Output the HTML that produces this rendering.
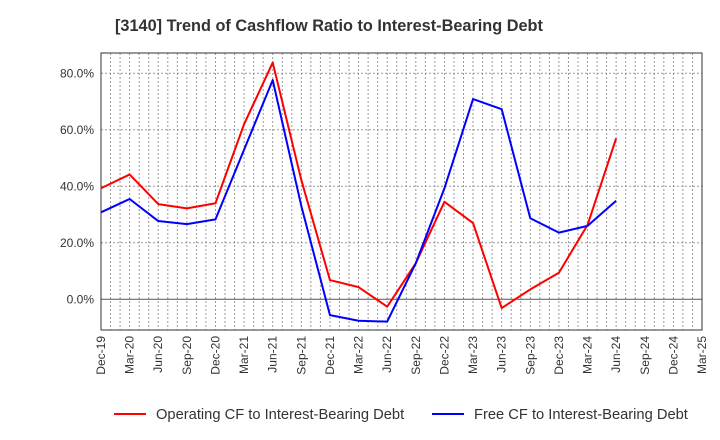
<!DOCTYPE html>
<html><head><meta charset="utf-8"><style>
html,body{margin:0;padding:0;background:#fff;}
svg{display:block;font-family:"Liberation Sans",sans-serif;}
</style></head><body>
<svg id="chart" width="720" height="440">
<text x="115" y="31" font-size="16.3" font-weight="bold" fill="#333">[3140]  Trend of Cashflow Ratio to Interest-Bearing Debt</text>
<g id="grid"></g><g id="axes"></g><g id="series"></g>
<g>
<line x1="114" y1="414" x2="146" y2="414" stroke="#f00" stroke-width="2"/>
<text x="156" y="419" font-size="14.7" fill="#333">Operating CF to Interest-Bearing Debt</text>
<line x1="432" y1="414" x2="464" y2="414" stroke="#00f" stroke-width="2"/>
<text x="474" y="419" font-size="14.7" fill="#333">Free CF to Interest-Bearing Debt</text>
</g>
</svg>
<script>
const xLabels=["Dec-19","Mar-20","Jun-20","Sep-20","Dec-20","Mar-21","Jun-21","Sep-21","Dec-21","Mar-22","Jun-22","Sep-22","Dec-22","Mar-23","Jun-23","Sep-23","Dec-23","Mar-24","Jun-24","Sep-24","Dec-24","Mar-25"];
const yTicks=[0,20,40,60,80];
const operatingCF=[39.3,44.2,33.7,32.2,34,62,83.8,42.2,6.8,4.3,-2.6,12.8,34.5,27,-3.1,3.5,9.4,26.3,57];
const freeCF=[30.8,35.5,27.7,26.6,28.3,53,77.6,33,-5.6,-7.6,-7.9,12.8,39.3,70.9,67.3,28.7,23.6,26,34.9];
const L=101,R=702,T=53,B=330;
const xs=i=>L+i*(R-L)/(xLabels.length-1);
const ys=v=>299.3-v*(56.5/20);
const NS="http://www.w3.org/2000/svg";
function mk(tag,attrs,parent){const e=document.createElementNS(NS,tag);for(const k in attrs)e.setAttribute(k,attrs[k]);parent.appendChild(e);return e;}
const grid=document.getElementById('grid'),axes=document.getElementById('axes'),ser=document.getElementById('series');
for(let m=0;m<=(xLabels.length-1)*3;m++){const x=L+m*(R-L)/((xLabels.length-1)*3);
const g=mk('line',{x1:x,x2:x,y1:T,y2:B,stroke:'#999','stroke-dasharray':'2,2','stroke-width':1},grid);

}
yTicks.forEach(v=>{const y=ys(v);
const g=mk('line',{x1:L,x2:R,y1:y,y2:y,stroke:v===0?'#555':'#999','stroke-dasharray':v===0?'none':'2,2','stroke-width':1},grid);

});
const fr=mk('rect',{x:L,y:T,width:R-L,height:B-T,fill:'none',stroke:'#333','stroke-width':1},axes);


yTicks.forEach(v=>{const t=mk('text',{x:L-7,y:ys(v)+4,'text-anchor':'end','font-size':12,fill:'#333'},axes);t.textContent=v.toFixed(1)+'%';

});
xLabels.forEach((s,i)=>{const x=xs(i);const t=mk('text',{x:0,y:0,'text-anchor':'end','font-size':12,fill:'#333',transform:`translate(${x+4},${B+6}) rotate(-90)`},axes);t.textContent=s;

});
function line(data,color,name){const p=mk('polyline',{points:data.map((v,i)=>xs(i)+','+ys(v)).join(' '),fill:'none',stroke:color,'stroke-width':2,'stroke-linejoin':'round'},ser);

}
line(operatingCF,'#f00','operating-cf-line');
line(freeCF,'#00f','free-cf-line');
</script>
</body></html>
